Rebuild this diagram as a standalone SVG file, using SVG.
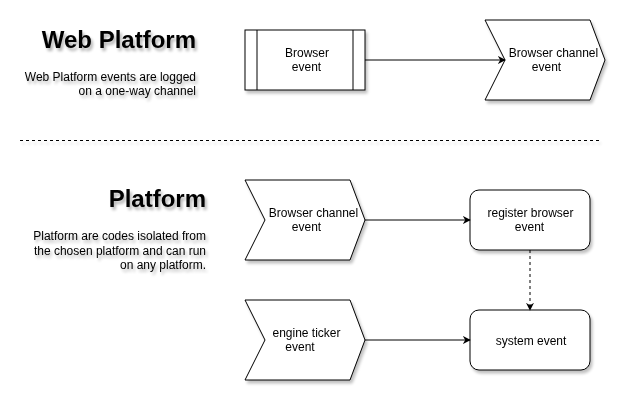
<svg xmlns="http://www.w3.org/2000/svg" width="627" height="402" viewBox="0 0 627 402">
<defs>
  <filter id="shadow" x="-20%" y="-20%" width="150%" height="150%">
    <feGaussianBlur in="SourceAlpha" stdDeviation="1.5"/>
    <feOffset dx="2" dy="3" result="b"/>
    <feComponentTransfer><feFuncA type="linear" slope="0.25"/></feComponentTransfer>
    <feMerge><feMergeNode/><feMergeNode in="SourceGraphic"/></feMerge>
  </filter>
  <filter id="tshadow" x="-20%" y="-30%" width="150%" height="180%">
    <feGaussianBlur in="SourceAlpha" stdDeviation="1.5"/>
    <feOffset dx="2" dy="3"/>
    <feComponentTransfer><feFuncA type="linear" slope="0.3"/></feComponentTransfer>
    <feMerge><feMergeNode/><feMergeNode in="SourceGraphic"/></feMerge>
  </filter>
  <filter id="lshadow" filterUnits="userSpaceOnUse" x="10" y="130" width="610" height="25">
    <feGaussianBlur in="SourceAlpha" stdDeviation="1.5"/>
    <feOffset dx="2" dy="3"/>
    <feComponentTransfer><feFuncA type="linear" slope="0.2"/></feComponentTransfer>
    <feMerge><feMergeNode/><feMergeNode in="SourceGraphic"/></feMerge>
  </filter>
  <marker id="arr" viewBox="0 0 10 10" refX="9" refY="5" markerWidth="8" markerHeight="8" markerUnits="userSpaceOnUse" orient="auto">
    <path d="M0,0 L10,5 L0,10 L3,5 Z" fill="#000"/>
  </marker>
</defs>
<style>
  .shape { fill: #fff; stroke: #000; stroke-width: 1; }
  .lbl { font-family: "Liberation Sans", Arial, sans-serif; font-size: 12px; fill: #000; text-anchor: middle; }
  .head { font-family: "Liberation Sans", Arial, sans-serif; font-size: 24px; font-weight: bold; fill: #000; text-anchor: end; }
  .desc { font-family: "Liberation Sans", Arial, sans-serif; font-size: 12px; fill: #000; text-anchor: end; }
  .conn { fill: none; stroke: #000; stroke-width: 1; }
</style>
<rect width="627" height="402" fill="#fff"/>

<g id="web-platform-title" filter="url(#tshadow)">
  <text class="head" x="196" y="48">Web Platform</text>
  <text class="desc" x="196" y="81">Web Platform events are logged</text>
  <text class="desc" x="196" y="95">on a one-way channel</text>
</g>

<g id="platform-title" filter="url(#tshadow)">
  <text class="head" x="206" y="207">Platform</text>
  <text class="desc" x="206" y="240">Platform are codes isolated from</text>
  <text class="desc" x="206" y="255">the chosen platform and can run</text>
  <text class="desc" x="206" y="269">on any platform.</text>
</g>

<g id="separator">
  <path d="M20,140.5 H600" stroke="#000" stroke-dasharray="3,3" fill="none" filter="url(#lshadow)"/>
</g>

<g id="browser-event" filter="url(#shadow)">
  <rect class="shape" x="245" y="30" width="120" height="60"/>
  <line class="shape" x1="257" y1="30" x2="257" y2="90"/>
  <line class="shape" x1="353" y1="30" x2="353" y2="90"/>
  <text class="lbl" x="307" y="57">Browser</text>
  <text class="lbl" x="306.5" y="71">event</text>
</g>

<g id="browser-channel-event-top" filter="url(#shadow)">
  <path class="shape" d="M485,20 L590,20 L605,60 L590,100 L485,100 L505,60 Z"/>
  <text class="lbl" x="553.5" y="57">Browser channel</text>
  <text class="lbl" x="546.5" y="71">event</text>
</g>

<g id="browser-channel-event" filter="url(#shadow)">
  <path class="shape" d="M245,180 L350,180 L365,220 L350,260 L245,260 L265,220 Z"/>
  <text class="lbl" x="313.5" y="217">Browser channel</text>
  <text class="lbl" x="306.5" y="231">event</text>
</g>

<g id="engine-ticker-event" filter="url(#shadow)">
  <path class="shape" d="M245,300 L350,300 L365,340 L350,380 L245,380 L265,340 Z"/>
  <text class="lbl" x="306.5" y="337">engine ticker</text>
  <text class="lbl" x="300" y="351">event</text>
</g>

<g id="register-browser-event" filter="url(#shadow)">
  <rect class="shape" x="470" y="190" width="120" height="60" rx="9" ry="9"/>
  <text class="lbl" x="530.5" y="217">register browser</text>
  <text class="lbl" x="529.5" y="231">event</text>
</g>

<g id="system-event" filter="url(#shadow)">
  <rect class="shape" x="470" y="310" width="120" height="60" rx="9" ry="9"/>
  <text class="lbl" x="531" y="345">system event</text>
</g>

<g id="connectors">
  <line class="conn" x1="365" y1="60" x2="505" y2="60" marker-end="url(#arr)"/>
  <line class="conn" x1="365" y1="220" x2="470" y2="220" marker-end="url(#arr)"/>
  <line class="conn" x1="365" y1="340" x2="470" y2="340" marker-end="url(#arr)"/>
  <line class="conn" x1="530" y1="250" x2="530" y2="310" stroke-dasharray="3,3" marker-end="url(#arr)"/>
</g>
</svg>
